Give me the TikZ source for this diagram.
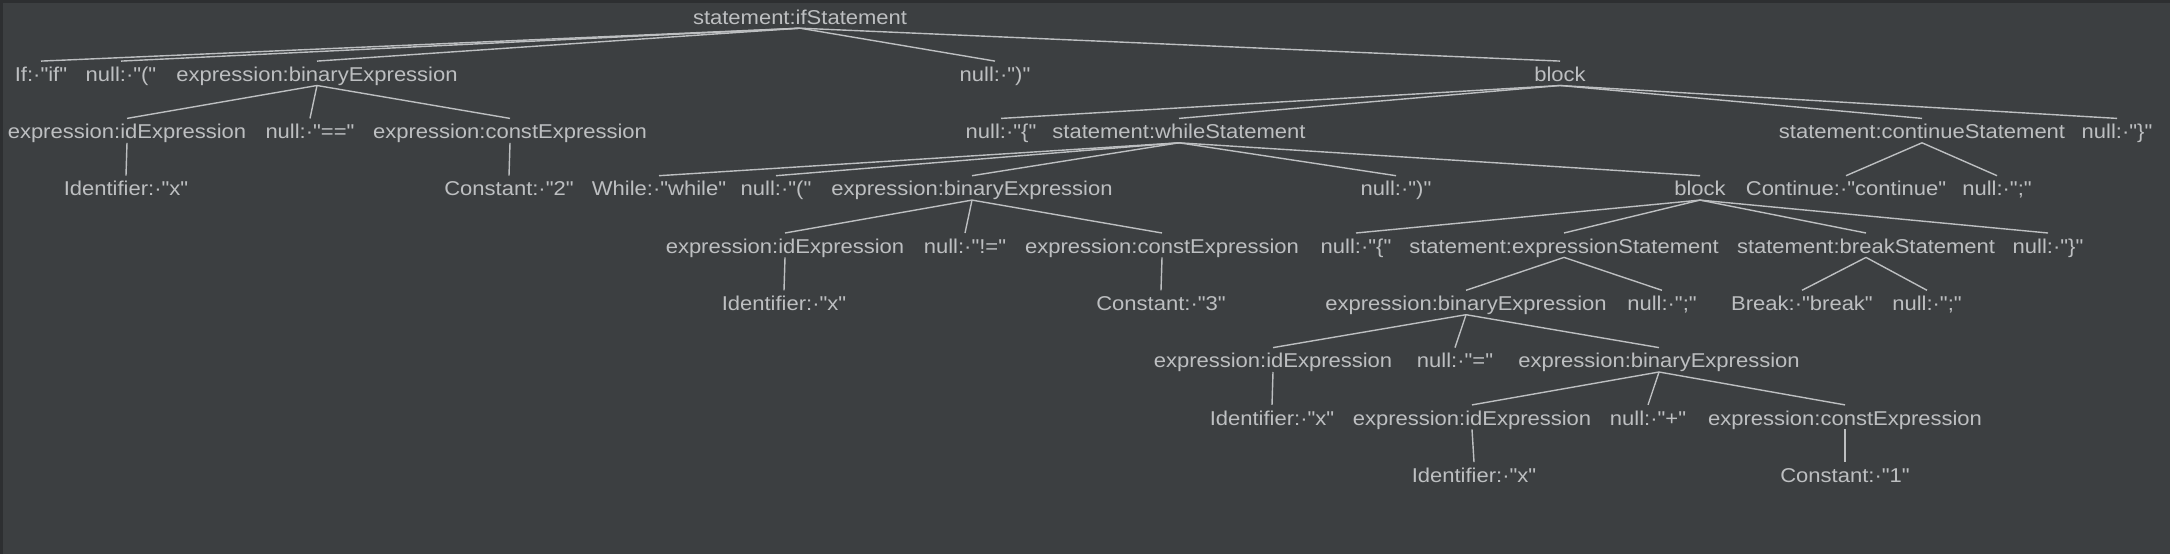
\documentclass[tikz,border=0pt]{standalone}
\usepackage{fontspec}
\newfontfamily\tokfont{Liberation Sans}[FakeStretch=1.1]
\usepackage{xcolor}
\usepackage{tikz}
\usetikzlibrary{positioning}

\definecolor{bgcol}{HTML}{3C3F41}
\definecolor{rimcol}{HTML}{2D2F31}
\definecolor{fgcol}{HTML}{BDBFC1}

\tikzset{
	tok/.style={anchor=base, text=fgcol, font={\tokfont\fontsize{20}{22}\selectfont},
		inner xsep=0pt, inner ysep=4pt, text height=16pt, text depth=0pt},
	branch/.style={draw=fgcol, line width=1.4pt}
}

\begin{document}
\begin{tikzpicture}[x=1pt, y=-1pt]
	\fill[bgcol] (0,0) rectangle (2170,554);
	\fill[rimcol] (0,0) rectangle (2170,3);
	\fill[rimcol] (0,0) rectangle (3,554);
	\useasboundingbox (0,0) rectangle (2170,554);

	% baselines of the levels
	\def\lA{24}
	\def\lB{81.3}
	\def\lC{138.6}
	\def\lD{195.9}
	\def\lE{253.2}
	\def\lF{310.5}
	\def\lG{367.8}
	\def\lH{425.1}
	\def\lI{482.4}

	\node [tok] (ifst) at (800, \lA) {statement:ifStatement};

	\node [tok] (ifkw) at (41, \lB) {If:·"if"};
	\node [tok] (lpa) at (121, \lB) {null:·"("};
	\node [tok] (bina) at (317, \lB) {expression:binaryExpression};
	\node [tok] (rpa) at (995, \lB) {null:·")"};
	\node [tok] (blka) at (1560, \lB) {block};

	\node [tok] (ida) at (127, \lC) {expression:idExpression};
	\node [tok] (eqeq) at (310, \lC) {null:·"=="};
	\node [tok] (consta) at (510, \lC) {expression:constExpression};
	\node [tok] (lba) at (1001, \lC) {null:·"\{"};
	\node [tok] (whilest) at (1179, \lC) {statement:whileStatement};
	\node [tok] (contst) at (1922, \lC) {statement:continueStatement};
	\node [tok] (rba) at (2117, \lC) {null:·"\}"};

	\node [tok] (identa) at (126, \lD) {Identifier:·"x"};
	\node [tok] (cnsta) at (509, \lD) {Constant:·"2"};
	\node [tok] (whilekw) at (659, \lD) {While:·"while"};
	\node [tok] (lpb) at (776, \lD) {null:·"("};
	\node [tok] (binb) at (972, \lD) {expression:binaryExpression};
	\node [tok] (rpb) at (1396, \lD) {null:·")"};
	\node [tok] (blkb) at (1700, \lD) {block};
	\node [tok] (contkw) at (1846, \lD) {Continue:·"continue"};
	\node [tok] (semia) at (1997, \lD) {null:·";"};

	\node [tok] (idb) at (785, \lE) {expression:idExpression};
	\node [tok] (neq) at (965, \lE) {null:·"!="};
	\node [tok] (constb) at (1162, \lE) {expression:constExpression};
	\node [tok] (lbb) at (1356, \lE) {null:·"\{"};
	\node [tok] (exprst) at (1564, \lE) {statement:expressionStatement};
	\node [tok] (brkst) at (1866, \lE) {statement:breakStatement};
	\node [tok] (rbb) at (2048, \lE) {null:·"\}"};

	\node [tok] (identb) at (784, \lF) {Identifier:·"x"};
	\node [tok] (cnstb) at (1161, \lF) {Constant:·"3"};
	\node [tok] (binc) at (1466, \lF) {expression:binaryExpression};
	\node [tok] (semib) at (1662, \lF) {null:·";"};
	\node [tok] (brkkw) at (1802, \lF) {Break:·"break"};
	\node [tok] (semic) at (1927, \lF) {null:·";"};

	\node [tok] (idc) at (1273, \lG) {expression:idExpression};
	\node [tok] (assign) at (1455, \lG) {null:·"="};
	\node [tok] (bind) at (1659, \lG) {expression:binaryExpression};

	\node [tok] (identc) at (1272, \lH) {Identifier:·"x"};
	\node [tok] (idd) at (1472, \lH) {expression:idExpression};
	\node [tok] (plus) at (1648, \lH) {null:·"+"};
	\node [tok] (constc) at (1845, \lH) {expression:constExpression};

	\node [tok] (identd) at (1474, \lI) {Identifier:·"x"};
	\node [tok] (cnstc) at (1845, \lI) {Constant:·"1"};

	\foreach \p/\c in {ifst/ifkw, ifst/lpa, ifst/bina, ifst/rpa, ifst/blka,
		bina/ida, bina/eqeq, bina/consta, ida/identa, consta/cnsta,
		blka/lba, blka/whilest, blka/contst, blka/rba,
		whilest/whilekw, whilest/lpb, whilest/binb, whilest/rpb, whilest/blkb,
		binb/idb, binb/neq, binb/constb, idb/identb, constb/cnstb,
		contst/contkw, contst/semia,
		blkb/lbb, blkb/exprst, blkb/brkst, blkb/rbb,
		exprst/binc, exprst/semib, brkst/brkkw, brkst/semic,
		binc/idc, binc/assign, binc/bind, idc/identc,
		bind/idd, bind/plus, bind/constc, idd/identd, constc/cnstc}
	\draw [branch] (\p.south) -- (\c.north);
\end{tikzpicture}
\end{document}
